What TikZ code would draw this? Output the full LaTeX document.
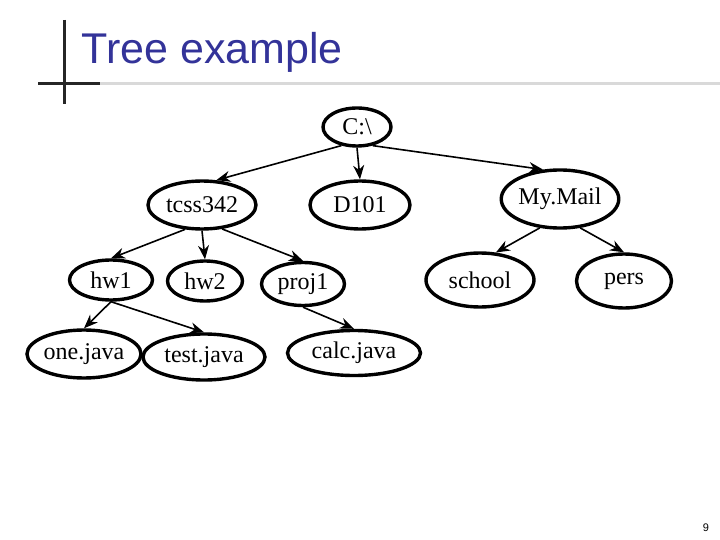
\documentclass[tikz,border=0pt]{standalone}
\usepackage{fontspec}
\setmainfont{Liberation Serif}
\setsansfont{Liberation Sans}
\usetikzlibrary{shapes.geometric,arrows.meta}
\definecolor{titleblue}{HTML}{333399}
\begin{document}
\begin{tikzpicture}[x=1pt,y=-1pt,
  el/.style={draw,ellipse,line width=3.4pt,font=\fontsize{24}{26}\selectfont,inner sep=0pt},
  ar/.style={line width=1.6pt,-{Stealth[length=14pt,width=11pt]}}]
\useasboundingbox (0,0) rectangle (720,540);
\fill[white] (0,0) rectangle (720,540);
\draw[line width=3pt,black!85] (64,20) -- (64,104);
\draw[line width=3pt,black!85] (38,84) -- (100,84);
\draw[line width=3pt,black!15] (100,84) -- (720,84);
\node[anchor=base west,text=titleblue,font=\sffamily\fontsize{43}{45}\selectfont] (t) at (78,64) {Tree example};
\node[el,minimum width=68pt,minimum height=38pt] (c) at (357,127) {C:\textbackslash};
\node[el,minimum width=108pt,minimum height=48pt] (tc) at (202,205) {tcss342};
\node[el,minimum width=100pt,minimum height=48pt] (d) at (360,205) {D101};
\node[el,minimum width=108pt,minimum height=58pt] (m) at (560,199) {My.Mail};
\node[el,minimum width=83pt,minimum height=40pt] (h1) at (111,280) {hw1};
\node[el,minimum width=75pt,minimum height=40pt] (h2) at (205,281) {hw2};
\node[el,minimum width=83pt,minimum height=43pt] (p) at (303,284) {proj1};
\node[el,minimum width=108pt,minimum height=54pt] (s) at (480,280) {school};
\node[el,minimum width=95pt,minimum height=54pt] (pe) at (624,281) {pers};
\node[el,minimum width=107pt,minimum height=48pt] (o) at (84,354) {one.java};
\node[el,minimum width=122pt,minimum height=46pt] (te) at (204,357) {test.java};
\node[el,minimum width=133pt,minimum height=45pt] (ca) at (354,353) {calc.java};
\node[font=\sffamily\fontsize{11}{12}\selectfont] (n) at (706,528) {9};
\draw[ar] (c.230) -- (tc.60);
\draw[ar] (c.south) -- (d.north);
\draw[ar] (c.310) -- (m.120);
\draw[ar] (tc.235) -- (h1.north);
\draw[ar] (tc.south) -- (h2.north);
\draw[ar] (tc.310) -- (p.north);
\draw[ar] (m.235) -- (s.60);
\draw[ar] (m.305) -- (pe.north);
\draw[ar] (h1.south) -- (o.north);
\draw[ar] (h1.south) -- (te.north);
\draw[ar] (p.south) -- (ca.north);
\end{tikzpicture}
\end{document}
